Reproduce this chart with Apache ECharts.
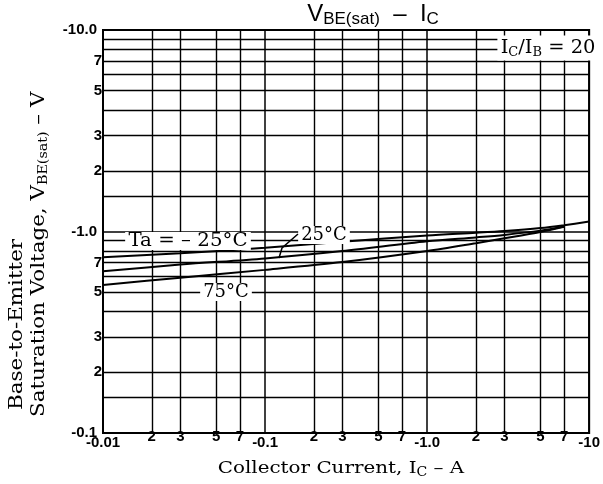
<!DOCTYPE html>
<html>
<head>
<meta charset="utf-8">
<script src="https://cdn.jsdelivr.net/npm/echarts@6/dist/echarts.min.js"></script>
<style>html,body{margin:0;padding:0;background:#fff;}#c{width:603px;height:484px;}</style>
</head>
<body>
<div id="c"></div>
<script>
// Collector current |I_C| (A) and V_BE(sat) magnitude (V)
const icTop = [0.01, 0.03, 0.1, 0.3, 1, 2, 3, 5, 7, 10];
const vbeMinus25 = [0.745, 0.78, 0.83, 0.89, 0.955, 0.985, 1.005, 1.04, 1.075, 1.12];
const icMid = [0.01, 0.03, 0.1, 0.3, 1, 2, 3, 5, 7];
const vbe25 = [0.635, 0.685, 0.735, 0.80, 0.895, 0.935, 0.962, 1.01, 1.06];
const vbe75 = [0.543, 0.59, 0.645, 0.705, 0.80, 0.875, 0.925, 0.995, 1.055];

// tick values and labels
const xDecades = [0.01, 0.1, 1, 10];
const xDecadeLabels = ['-0.01', '-0.1', '-1.0', '-10'];
const yDecades = [0.1, 1, 10];
const yDecadeLabels = ['-0.1', '-1.0', '-10.0'];
const xMinor = [0.02, 0.03, 0.05, 0.07, 0.2, 0.3, 0.5, 0.7, 2, 3, 5, 7];
const xMinorLabels = ['2', '3', '5', '7', '2', '3', '5', '7', '2', '3', '5', '7'];
const yMinor = [0.15, 0.2, 0.3, 0.4, 0.5, 0.6, 0.7, 0.8, 0.9, 1.5, 2, 3, 4, 5, 6, 7, 8, 9];
const yMinorLabels = ['', '2', '3', '', '5', '', '7', '', '', '', '2', '3', '', '5', '', '7', '', ''];

const tickFont = {fontFamily: 'Liberation Sans', fontSize: 15, color: '#000', fontWeight: 'bold'};
const serif = 'DejaVu Serif';

function lookup(vals, labels) {
  return function (v) {
    for (let i = 0; i < vals.length; i++) {
      if (Math.abs(Math.log10(v) - Math.log10(vals[i])) < 1e-6) return labels[i];
    }
    return '';
  };
}

const gridLineData = [];
xMinor.forEach((v, i) => gridLineData.push({
  xAxis: v,
  label: {show: true, position: 'start', distance: -4, formatter: xMinorLabels[i], ...tickFont}
}));
yMinor.forEach((v, i) => gridLineData.push({
  yAxis: v,
  label: {show: yMinorLabels[i] !== '', position: 'start', distance: 1, formatter: yMinorLabels[i], ...tickFont}
}));

function pairs(xs, ys) { return xs.map((x, i) => [x, ys[i]]); }

const lineStyle = {color: '#000', width: 2};
const chart = echarts.init(document.getElementById('c'));
chart.setOption({
  animation: false,
  backgroundColor: '#fff',
  grid: {left: 103, right: 5, top: 30, bottom: 51, show: true, borderColor: '#000', borderWidth: 2, backgroundColor: 'transparent'},
  xAxis: {
    type: 'log', logBase: 10, min: 0.01, max: 10,
    axisLine: {show: false}, axisTick: {show: false},
    splitLine: {show: true, lineStyle: {color: '#000', width: 1.5}},
    axisLabel: {margin: 2, formatter: lookup(xDecades, xDecadeLabels), ...tickFont, showMinLabel: true, showMaxLabel: true}
  },
  yAxis: {
    type: 'log', logBase: 10, min: 0.1, max: 10,
    axisLine: {show: false}, axisTick: {show: false},
    splitLine: {show: true, lineStyle: {color: '#000', width: 1.5}},
    axisLabel: {margin: 6, formatter: lookup(yDecades, yDecadeLabels), ...tickFont}
  },
  series: [
    {
      name: 'Ta=-25°C', type: 'line', data: pairs(icTop, vbeMinus25), symbol: 'none', smooth: 0.3,
      lineStyle: lineStyle, z: 5,
      markLine: {silent: true, symbol: ['none', 'none'], animation: false, z: 1,
        lineStyle: {color: '#000', type: 'solid', width: 1.4}, data: gridLineData}
    },
    {name: '25°C', type: 'line', data: pairs(icMid, vbe25), symbol: 'none', smooth: 0.3, lineStyle: lineStyle, z: 5},
    {name: '75°C', type: 'line', data: pairs(icMid, vbe75), symbol: 'none', smooth: 0.3, lineStyle: lineStyle, z: 5}
  ],
  graphic: [
    {type: 'text', x: 373, y: 14, z: 100, style: {
      text: '{m|V}{s|BE(sat)}{m|  –  I}{s|C}', align: 'center', verticalAlign: 'middle',
      rich: {m: {fontFamily: 'Liberation Sans', fontSize: 24, fill: '#000'},
             s: {fontFamily: 'Liberation Sans', fontSize: 17, fill: '#000', padding: [10, 0, 0, 0]}}}},
    {type: 'text', x: 341, y: 469, scaleX: 1.17, z: 100, style: {
      text: '{m|Collector Current, I}{s|C}{m| – A}', align: 'center', verticalAlign: 'middle',
      rich: {m: {fontFamily: serif, fontSize: 17, fill: '#000'},
             s: {fontFamily: serif, fontSize: 12, fill: '#000', padding: [8, 0, 0, 0]}}}},
    {type: 'text', x: 17, y: 410, rotation: Math.PI / 2, scaleX: 1.19, z: 100, style: {
      text: 'Base-to-Emitter', align: 'left', verticalAlign: 'middle',
      fontFamily: serif, fontSize: 18, fill: '#000'}},
    {type: 'text', x: 39, y: 417, rotation: Math.PI / 2, scaleX: 1.19, z: 100, style: {
      text: '{m|Saturation Voltage, V}{s|BE(sat)}{m| – V}', align: 'left', verticalAlign: 'middle',
      rich: {m: {fontFamily: serif, fontSize: 18, fill: '#000'},
             s: {fontFamily: serif, fontSize: 12, fill: '#000', padding: [9, 0, 0, 0]}}}},
    {type: 'text', x: 188, y: 241, scaleX: 1.1, z: 100, style: {
      text: 'Ta = – 25°C', align: 'center', verticalAlign: 'middle', backgroundColor: '#fff', padding: [0, 3],
      fontFamily: serif, fontSize: 18, fill: '#000'}},
    {type: 'text', x: 324, y: 235, z: 100, style: {
      text: '25°C', align: 'center', verticalAlign: 'middle', backgroundColor: '#fff', padding: [0, 3],
      fontFamily: serif, fontSize: 18, fill: '#000'}},
    {type: 'polyline', z: 100, shape: {points: [[298, 234], [282, 248], [279, 258]]}, style: {stroke: '#000', lineWidth: 1.5, fill: null}},
    {type: 'text', x: 226, y: 292, z: 100, style: {
      text: '75°C', align: 'center', verticalAlign: 'middle', backgroundColor: '#fff', padding: [0, 3],
      fontFamily: serif, fontSize: 18, fill: '#000'}},
    {type: 'text', x: 548, y: 48, scaleX: 1.08, z: 100, style: {
      text: '{m|I}{s|C}{m|/I}{s|B}{m| = 20}', align: 'center', verticalAlign: 'middle', backgroundColor: '#fff', padding: [2, 3],
      rich: {m: {fontFamily: serif, fontSize: 18, fill: '#000'},
             s: {fontFamily: serif, fontSize: 12, fill: '#000', padding: [9, 0, 0, 0]}}}}
  ]
});
</script>
</body>
</html>
